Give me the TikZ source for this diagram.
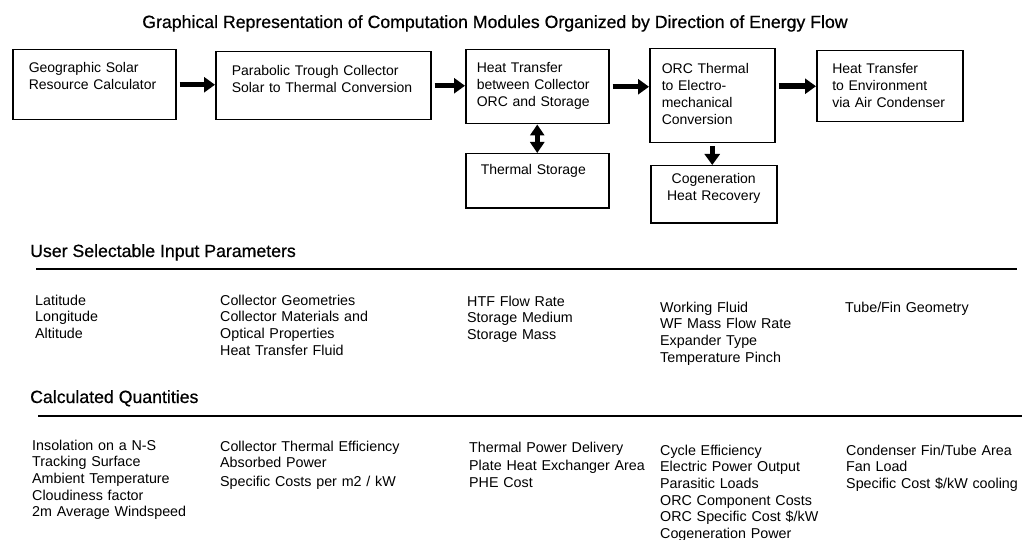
\documentclass[tikz,border=0pt]{standalone}
\usepackage{fontspec}
\setmainfont{Liberation Sans}
\newfontfamily\headfont{Liberation Sans}[FakeBold=0.6]
\usetikzlibrary{arrows.meta}
\hyphenpenalty=10000

\begin{document}
\begin{tikzpicture}[x=1pt,y=-1pt,
module/.style={draw,line width=1.5pt,anchor=north west,align=left,inner ysep=0pt,text height=23pt,font=\fontsize{14}{16.8}\selectfont},
flow/.style={line width=5.5pt,-{Triangle[length=11pt,width=15pt]}},
twoway/.style={line width=5.5pt,{Triangle[length=11pt,width=14pt]}-{Triangle[length=11pt,width=14pt]}},
head/.style={anchor=base west,inner sep=0pt,font=\headfont\fontsize{17.7}{20}\selectfont},
col/.style={anchor=base west,align=left,text width=190pt,inner sep=0pt,font=\fontsize{14.3}{16.7}\selectfont}]
\useasboundingbox (0,0) rectangle (1027,540);
\node[anchor=base,inner sep=0pt,font=\headfont\fontsize{17.7}{20}\selectfont] (title) at (495,28) {Graphical Representation of Computation Modules Organized by Direction of Energy Flow};
\node[module,text width=131pt,inner xsep=16pt,text depth=47pt] (gsr) at (12,49) {Geographic Solar\\Resource Calculator};
\node[module,text width=183pt,inner xsep=16pt,text height=24pt,text depth=44pt] (ptc) at (215,51) {Parabolic Trough Collector\\Solar to Thermal Conversion};
\node[module,text width=121pt,inner xsep=11pt,text depth=51pt] (htc) at (465,49) {Heat Transfer\\between Collector\\ORC and Storage};
\node[module,text width=113pt,inner xsep=15pt,text height=21pt,text depth=33pt] (stor) at (465,153) {Thermal Storage};
\node[module,text width=101pt,inner xsep=12pt,text height=25pt,text depth=69pt] (orc) at (649,48) {ORC Thermal\\to Electro-\\mechanical\\Conversion};
\node[module,align=center,text width=106pt,inner xsep=10pt,text height=18pt,text depth=39pt] (cogen) at (650,165) {Cogeneration\\Heat Recovery};
\node[module,text width=115pt,inner xsep=15.5pt,text depth=48pt] (env) at (816,50) {Heat Transfer\\to Environment\\via Air Condenser};
\draw[flow,shorten <=3pt] (gsr.east) -- (gsr.east -| ptc.west);
\draw[flow,shorten <=3pt] (ptc.east) -- (ptc.east -| htc.west);
\draw[flow,shorten <=3pt] (htc.east) -- (htc.east -| orc.west);
\draw[flow,shorten <=3pt] (orc.east |- env.west) -- (env.west);
\draw[twoway] (htc.south) -- (stor.north);
\draw[flow,shorten <=3pt] (orc.south) -- (orc.south |- cogen.north);
\node[head] (inhead) at (30,257) {User Selectable Input Parameters};
\draw[line width=1.8pt] (36,269) -- (1017,269);
\node[col] (in1) at (35,305) {Latitude\\Longitude\\Altitude};
\node[col] (in2) at (220,305) {Collector Geometries\\Collector Materials and\\Optical Properties\\Heat Transfer Fluid};
\node[col] (in3) at (467,306) {HTF Flow Rate\\Storage Medium\\Storage Mass};
\node[col] (in4) at (660,312) {Working Fluid\\WF Mass Flow Rate\\Expander Type\\Temperature Pinch};
\node[col] (in5) at (845,312) {Tube/Fin Geometry};
\node[head] (calchead) at (30,403) {Calculated Quantities};
\draw[line width=1.8pt] (38,416) -- (1022,416);
\node[col] (out1) at (32,450) {Insolation on a N-S\\Tracking Surface\\Ambient Temperature\\Cloudiness factor\\2m Average Windspeed};
\node[col] (out2) at (220,451) {Collector Thermal Efficiency\\Absorbed Power\\[2pt]Specific Costs per m2 / kW};
\node[col] (out3) at (469,452) {Thermal Power Delivery\\[2pt]Plate Heat Exchanger Area\\PHE Cost};
\node[col] (out4) at (660,455) {Cycle Efficiency\\Electric Power Output\\Parasitic Loads\\ORC Component Costs\\ORC Specific Cost \$/kW\\Cogeneration Power};
\node[col] (out5) at (846,455) {Condenser Fin/Tube Area\\Fan Load\\Specific Cost \$/kW cooling};
\end{tikzpicture}
\end{document}
